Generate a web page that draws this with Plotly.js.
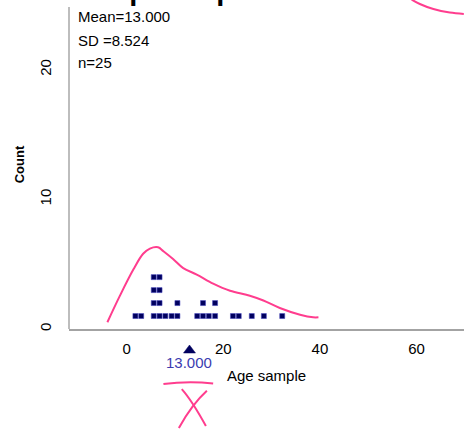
<!DOCTYPE html>
<html><head><meta charset="utf-8">
<script src="https://cdn.plot.ly/plotly-3.0.1.min.js"></script>
<style>html,body{margin:0;padding:0;background:#fff;}#chart{width:464px;height:431px;}</style>
</head><body><div id="chart"></div>
<script>
// ---- data ----
const ages = [1.8, 3.0, 5.6, 5.6, 5.6, 5.6, 6.8, 6.8, 6.8, 6.8, 8.0, 9.3, 10.5, 10.5,
              14.6, 15.8, 15.8, 17.0, 18.3, 18.3, 22.0, 23.2, 25.9, 28.4, 32.2];
const statLabels = ["Mean=13.000", "SD =8.524", "n=25"];
const meanValue = 13.000;
const meanLabel = "13.000";
const xTicks = [0, 20, 40, 60];
const yTicks = [0, 10, 20];
const chartTitle = "Bootstrap Sample";
const xTitle = "Age sample";
const yTitle = "Count";
// hand-drawn pink sketch over the chart (data units)
const sketchX = [-4.0, -1.4, 1.4, 3.4, 4.8, 6.5, 7.6, 9.6, 11.7, 14.5, 17.9, 21.4, 25.5, 28.3, 31.7, 35.9, 38.6, 39.7];
const sketchY = [0.52, 2.57, 4.6, 5.8, 6.2, 6.3, 6.0, 5.4, 4.7, 4.2, 3.5, 2.95, 2.57, 2.2, 1.62, 1.1, 0.9, 0.9];
const cornerSketchX = [59.0, 60.7, 63.5, 66.9, 69.8];
const cornerSketchY = [25.4, 25.06, 24.67, 24.4, 24.3];
const underlineX = [7.6, 12.7, 17.9];
const underlineY = [-4.25, -4.1, -4.2];
const crossAX = [11.4, 13.7, 16.4];
const crossAY = [-4.63, -5.78, -7.48];
const crossBX = [16.6, 13.6, 10.8];
const crossBY = [-4.76, -6.0, -7.63];

// ---- layout constants ----
const XR = [-11.95, 69.84];
const YR = [0, 25.37];
const FONT = "Arial, 'Liberation Sans', sans-serif";
const PINK = "#ff3d8e";
const NAVY = "#00005e";
const PLOT_H = 329;
const PLOT_W = 395;

// stack count for each dot
const seen = {};
const dotY = ages.map(v => (seen[v] = (seen[v] || 0) + 1));

const px = x => (x - XR[0]) / (XR[1] - XR[0]);
const py = y => (y - YR[0]) / (YR[1] - YR[0]);
function qpath(xs, ys) {
  const p0 = [px(xs[0]), py(ys[0])], p1 = [px(xs[1]), py(ys[1])], p2 = [px(xs[2]), py(ys[2])];
  const c = [2 * p1[0] - (p0[0] + p2[0]) / 2, 2 * p1[1] - (p0[1] + p2[1]) / 2];
  return `M ${p0[0]},${p0[1]} Q ${c[0]},${c[1]} ${p2[0]},${p2[1]}`;
}
const pinkLine = {color: PINK, width: 2};

const traces = [
  {x: sketchX, y: sketchY, mode: 'lines', line: {color: PINK, width: 2, shape: 'spline'}, hoverinfo: 'skip'},
  {x: cornerSketchX, y: cornerSketchY, mode: 'lines', line: {color: PINK, width: 2, shape: 'spline'}, hoverinfo: 'skip'},
  {x: ages, y: dotY, mode: 'markers', type: 'scatter',
   marker: {symbol: 'square', size: 5, color: NAVY, line: {color: 'rgba(70,70,190,0.55)', width: 1}}}
];

const annotations = [
  {text: chartTitle, xref: 'paper', yref: 'paper', x: (8 - 69) / PLOT_W, y: 1, xanchor: 'left', yanchor: 'bottom',
   yshift: -8, showarrow: false, font: {family: FONT, size: 29, color: '#000', weight: 'bold'}},
  {text: meanLabel, xref: 'x', yref: 'paper', x: meanValue, y: 0, yanchor: 'middle', yshift: -33,
   showarrow: false, font: {family: FONT, size: 15, color: '#3b3bb0'}}
];
const statY = [16, 40, 63];
statLabels.forEach((t, i) => annotations.push({
  text: t, xref: 'paper', yref: 'paper', x: 7 / PLOT_W, y: 1 - statY[i] / PLOT_H, xanchor: 'left', yanchor: 'middle',
  showarrow: false, font: {family: FONT, size: 15, color: '#000'}
}));

// mean marker triangle below the axis (pixel sizes converted to paper units)
const mx = px(meanValue), hw = 6 / PLOT_W, tipY = -16 / PLOT_H, baseY = -24 / PLOT_H;
const shapes = [
  {type: 'line', xref: 'paper', yref: 'paper', x0: 0, x1: 0, y0: 0, y1: 1 - 7 / PLOT_H,
   line: {color: '#bdbdbd', width: 2}},
  {type: 'path', xref: 'paper', yref: 'paper',
   path: `M ${mx - hw},${baseY} L ${mx + hw},${baseY} L ${mx},${tipY} Z`,
   fillcolor: NAVY, line: {color: NAVY, width: 0.5}},
  {type: 'path', xref: 'paper', yref: 'paper', path: qpath(underlineX, underlineY), line: pinkLine},
  {type: 'path', xref: 'paper', yref: 'paper', path: qpath(crossAX, crossAY), line: pinkLine},
  {type: 'path', xref: 'paper', yref: 'paper', path: qpath(crossBX, crossBY), line: pinkLine}
];

const layout = {
  width: 464, height: 431,
  margin: {l: 69, r: 0, t: 0, b: 102},
  paper_bgcolor: '#fff', plot_bgcolor: '#fff',
  showlegend: false,
  font: {family: FONT, color: '#000'},
  xaxis: {range: XR, tickvals: xTicks, ticktext: xTicks.map(String), showgrid: false, zeroline: false,
          showline: true, linecolor: '#a3a3a3', linewidth: 2, ticks: '', ticklabelstandoff: 5,
          tickfont: {family: FONT, size: 15, color: '#000'},
          title: {text: xTitle, font: {family: FONT, size: 15, color: '#000'}, standoff: 14}},
  yaxis: {range: YR, tickvals: yTicks, ticktext: yTicks.map(String), tickangle: -90, showgrid: false,
          zeroline: false, showline: false, ticks: '', ticklabelstandoff: 14,
          tickfont: {family: FONT, size: 15, color: '#000'},
          title: {text: yTitle, font: {family: FONT, size: 13, color: '#000', weight: 'bold'}, standoff: 9}},
  annotations: annotations,
  shapes: shapes
};

Plotly.newPlot('chart', traces, layout, {displayModeBar: false, staticPlot: true});
</script>
</body></html>
